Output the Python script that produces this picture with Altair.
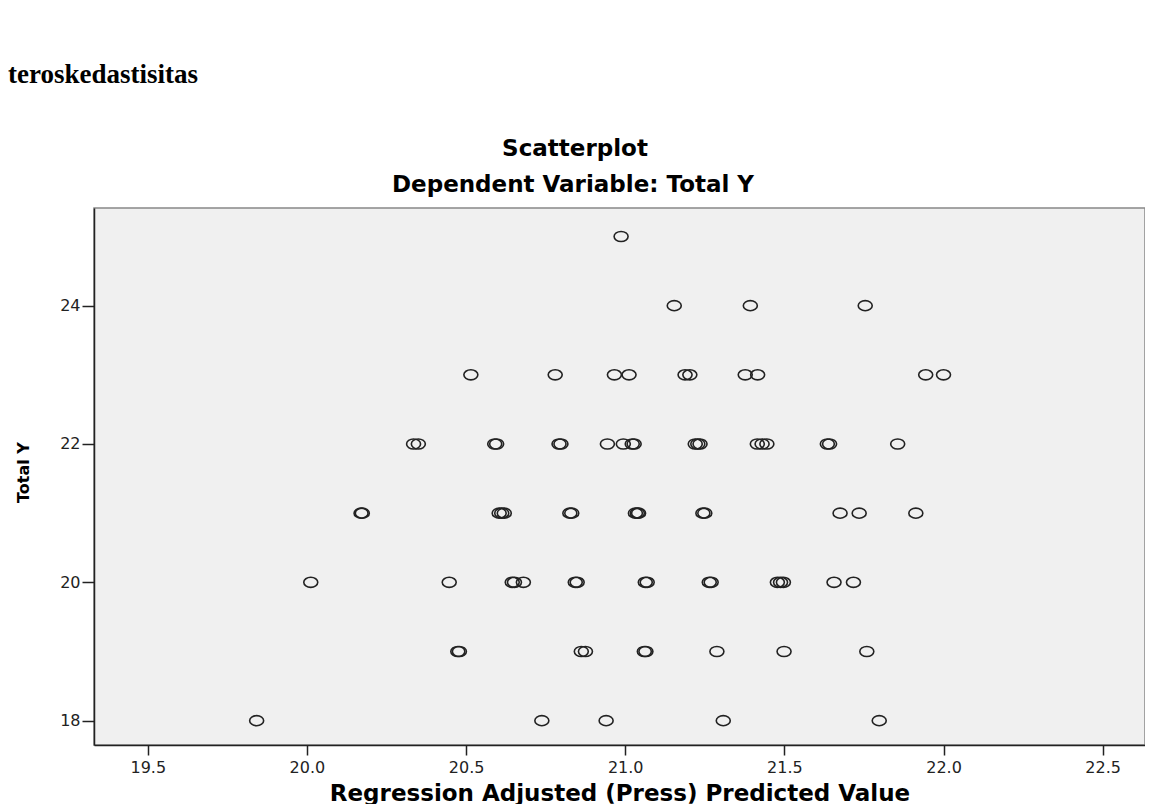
import altair as alt
import pandas as pd

pred = [
    20.987,
    21.154, 21.393, 21.754,
    20.515, 20.780, 20.966, 21.012, 21.188, 21.203, 21.377, 21.416, 21.944, 22.000,
    20.335, 20.350, 20.590, 20.596, 20.792, 20.798, 20.944, 20.994, 21.022, 21.028,
    21.220, 21.228, 21.235, 21.415, 21.430, 21.445, 21.635, 21.642, 21.856,
    20.170, 20.174, 20.604, 20.612, 20.620, 20.826, 20.832, 21.032, 21.038, 21.042,
    21.244, 21.250, 21.675, 21.735, 21.913,
    20.012, 20.447, 20.645, 20.652, 20.680, 20.843, 20.849, 21.063, 21.069, 21.264,
    21.270, 21.478, 21.488, 21.497, 21.656, 21.717,
    20.474, 20.479, 20.862, 20.875, 21.060, 21.065, 21.288, 21.499, 21.759,
    19.842, 20.738, 20.940, 21.308, 21.798,
]
total_y = (
    [25] * 1 + [24] * 3 + [23] * 10 + [22] * 19 + [21] * 15 + [20] * 16 + [19] * 9 + [18] * 5
)

x_ticks = [19.5, 20.0, 20.5, 21.0, 21.5, 22.0, 22.5]
y_ticks = [18, 20, 22, 24]

chart_title = ["Scatterplot"]
chart_subtitle = ["Dependent Variable: Total Y"]
heading = ["teroskedastisitas"]

df = pd.DataFrame({"pred": pred, "y": total_y})

ellipse = "M-1,0A1,0.72,0,1,1,1,0A1,0.72,0,1,1,-1,0Z"

FONT = "DejaVu Sans"

points = alt.Chart(df).mark_point(
    shape=ellipse, filled=False, size=196, stroke="#222222", color="#222222",
    strokeWidth=1.6, opacity=1
).encode(
    x=alt.X(
        "pred:Q",
        scale=alt.Scale(domain=[19.331, 22.633], nice=False, zero=False),
        axis=alt.Axis(
            values=x_ticks, format=".1f",
            title="Regression Adjusted (Press) Predicted Value",
            titleFont=FONT, titleFontSize=23, titleFontWeight="bold", titleColor="#000",
            titleY=55, titleBaseline="alphabetic",
            labelFont=FONT, labelFontSize=16, labelColor="#222", labelPadding=4,
            tickSize=10, grid=False,
        ),
    ),
    y=alt.Y(
        "y:Q",
        scale=alt.Scale(domain=[17.648, 25.412], nice=False, zero=False),
        axis=alt.Axis(
            values=y_ticks, format="d",
            title="Total Y",
            titleFont=FONT, titleFontSize=16, titleFontWeight="bold", titleColor="#000",
            titleX=-66, titleY=264, titleBaseline="alphabetic", titleAngle=270,
            labelFont=FONT, labelFontSize=16, labelColor="#222", labelPadding=2,
            tickSize=12, grid=False,
        ),
    ),
)

title_layer = alt.Chart(pd.DataFrame({"t": chart_title})).mark_text(
    font=FONT, fontSize=23, fontWeight="bold", color="#000", align="center", baseline="alphabetic"
).encode(text="t:N", x=alt.value(481), y=alt.value(-52))

subtitle_layer = alt.Chart(pd.DataFrame({"t": chart_subtitle})).mark_text(
    font=FONT, fontSize=23, fontWeight="bold", color="#000", align="center", baseline="alphabetic"
).encode(text="t:N", x=alt.value(479), y=alt.value(-16))

heading_layer = alt.Chart(pd.DataFrame({"t": heading})).mark_text(
    font="Liberation Serif", fontSize=27, fontWeight="bold", color="#000", align="left", baseline="alphabetic"
).encode(text="t:N", x=alt.value(-86), y=alt.value(-125))

chart = alt.layer(points, title_layer, subtitle_layer, heading_layer).properties(
    width=1051, height=537,
    autosize=alt.AutoSizeParams(type="none"),
    padding={"left": 86, "top": 200, "right": 0, "bottom": 59},
).configure_view(
    fill="#f0f0f0", stroke="#888888", strokeWidth=1.5
).configure_axis(
    domainColor="#222222", domainWidth=1.5, tickColor="#222222", tickWidth=1.5
)

chart.save("out.html", embed_options={"renderer": "svg", "actions": False})
